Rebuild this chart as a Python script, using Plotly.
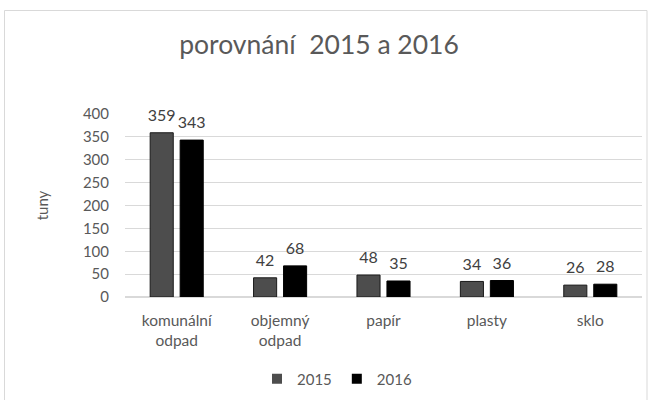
import plotly.graph_objects as go

categories = ["komunální<br>odpad", "objemný<br>odpad", "papír", "plasty", "sklo"]
values_2015 = [359, 42, 48, 34, 26]
values_2016 = [343, 68, 35, 36, 28]
series_names = ["2015", "2016"]
tick_vals = [0, 50, 100, 150, 200, 250, 300, 350, 400]

W, H = 651, 400
ml, mr, mt, mb = 125, 9, 114, 103
pw, ph = W - ml - mr, H - mt - mb

FONT = "Lato, 'Open Sans', sans-serif"
GREY = "#595959"
COLORS = ["#4d4d4d", "#000000"]
EDGE = ["#1a1a1a", "#000000"]


def label(v):
    # value label followed by a small spacer line so it sits higher above the bar
    return f'<span style="font-size:16px">{v}</span><br>\u00a0'


fig = go.Figure()
for name, vals, col, edge in zip(series_names, [values_2015, values_2016], COLORS, EDGE):
    fig.add_trace(go.Bar(
        x=categories, y=vals, name=name, legendgroup=name, showlegend=False,
        marker=dict(color=col, line=dict(color=edge, width=1)),
        text=[label(v) for v in vals], textposition="outside", cliponaxis=False,
        constraintext="none", hoverinfo="skip",
        textfont=dict(family=FONT, size=6, color="#404040"),
    ))
# legend entries with small square keys
for name, col in zip(series_names, COLORS):
    fig.add_trace(go.Scatter(
        x=[None], y=[None], mode="markers", name=name, legendgroup=name,
        marker=dict(symbol="square", size=10, color=col),
    ))


def px_x(p):
    return (p - ml) / pw


def px_y(p):
    return (H - mb - p) / ph


fig.add_shape(type="rect", xref="paper", yref="paper",
              x0=px_x(4.5), x1=px_x(647), y0=px_y(405), y1=px_y(10.5),
              line=dict(color="#d9d9d9", width=1), fillcolor="rgba(0,0,0,0)", layer="below")

fig.update_layout(
    width=W, height=H,
    margin=dict(l=ml, r=mr, t=mt, b=mb, autoexpand=False),
    paper_bgcolor="white", plot_bgcolor="white",
    font=dict(family=FONT, size=15, color=GREY),
    title=dict(text="porovnání  2015 a 2016", x=319 / W, xanchor="center",
               y=1 - 45 / H, yanchor="middle",
               font=dict(family=FONT, size=26.5, color=GREY)),
    barmode="group", bargap=0.42, bargroupgap=0.23,
    showlegend=True,
    legend=dict(orientation="h", xref="container", yref="container",
                x=337 / W, xanchor="center", y=1 - 379 / H, yanchor="middle",
                font=dict(family=FONT, size=15, color=GREY),
                itemwidth=30, traceorder="normal", tracegroupgap=0),
    xaxis=dict(showgrid=False, showline=False, ticks="", ticklabelstandoff=12,
               tickfont=dict(size=15.5, color=GREY)),
    yaxis=dict(range=[0, 400], tickvals=tick_vals, showgrid=True, gridcolor="#d9d9d9",
               zeroline=True, zerolinecolor="#d9d9d9", showline=False, ticks="",
               ticklabelstandoff=15, tickfont=dict(size=15, color=GREY),
               title=dict(text="tuny", standoff=30, font=dict(size=15, color=GREY))),
)

fig.write_html("out.html", config={"displayModeBar": False},
               post_script="document.body.style.margin='0';")
